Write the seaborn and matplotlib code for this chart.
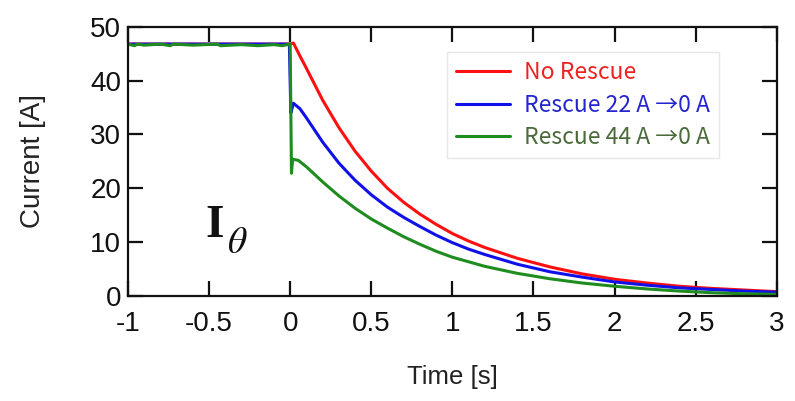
import matplotlib
matplotlib.use("Agg")
import matplotlib.pyplot as plt
import seaborn as sns
import pandas as pd
from matplotlib.lines import Line2D
from matplotlib.font_manager import FontProperties

# ---- data -------------------------------------------------------------
series_names = ["No Rescue", "Rescue 22 A \u21920 A", "Rescue 44 A \u21920 A"]

t_red = [-1.0, -0.5, 0.0, 0.02, 0.06, 0.1, 0.2, 0.3, 0.4, 0.5, 0.6, 0.7, 0.8, 0.9, 1.0,
         1.1, 1.2, 1.4, 1.6, 1.8, 2.0, 2.2, 2.4, 2.6, 2.8, 3.0]
i_red = [46.8, 46.8, 46.8, 47.0, 44.6, 42.3, 36.4, 31.3, 26.9, 23.2, 20.0, 17.4, 15.2, 13.3, 11.6,
         10.2, 9.0, 7.0, 5.4, 4.1, 3.1, 2.4, 1.8, 1.4, 1.1, 0.8]

t_blue = [-1.0, -0.5, -0.005, 0.004, 0.02, 0.06, 0.1, 0.2, 0.3, 0.4, 0.5, 0.6, 0.7, 0.8, 0.9,
          1.0, 1.1, 1.2, 1.4, 1.6, 1.8, 2.0, 2.2, 2.4, 2.6, 2.8, 3.0]
i_blue = [46.8, 46.8, 46.8, 34.0, 35.8, 34.8, 33.1, 28.6, 24.7, 21.5, 18.8, 16.5, 14.6, 12.9, 11.3,
          9.9, 8.7, 7.7, 5.9, 4.5, 3.5, 2.6, 2.0, 1.5, 1.2, 0.9, 0.7]

t_green = [-1.0, -0.96, -0.94, -0.9, -0.8, -0.74, -0.72, -0.6, -0.45, -0.43, -0.3, -0.2,
           -0.1, -0.05, 0.0, 0.008, 0.015, 0.05, 0.1, 0.2, 0.3, 0.4, 0.5, 0.6, 0.7, 0.8,
           0.9, 1.0, 1.2, 1.4, 1.6, 1.8, 2.0, 2.2, 2.4, 2.6, 2.8, 3.0]
i_green = [46.8, 46.5, 46.8, 46.6, 46.8, 46.5, 46.8, 46.6, 46.8, 46.5, 46.7, 46.5,
           46.7, 46.5, 46.8, 22.8, 25.4, 25.2, 24.0, 21.2, 18.6, 16.3, 14.3, 12.6, 11.0, 9.6,
           8.3, 7.2, 5.5, 4.2, 3.2, 2.4, 1.8, 1.3, 0.9, 0.6, 0.4, 0.3]

line_colors = ["#ff1010", "#1010e8", "#1e8c1e"]
text_colors = ["#f02020", "#2424d0", "#4a6a3a"]

x_ticks = [-1, -0.5, 0, 0.5, 1, 1.5, 2, 2.5, 3]
x_ticklabels = ["-1", "-0.5", "0", "0.5", "1", "1.5", "2", "2.5", "3"]
y_ticks = [0, 10, 20, 30, 40, 50]

df = pd.concat([
    pd.DataFrame({"t": t_red, "I": i_red, "case": series_names[0]}),
    pd.DataFrame({"t": t_blue, "I": i_blue, "case": series_names[1]}),
    pd.DataFrame({"t": t_green, "I": i_green, "case": series_names[2]}),
], ignore_index=True)

# ---- figure -------------------------------------------------------------
sns.set_theme(style="ticks")
plt.rcParams["font.family"] = ["Liberation Sans", "DejaVu Sans"]
plt.rcParams["axes.unicode_minus"] = False
plt.rcParams["mathtext.fontset"] = "stix"

fig = plt.figure(figsize=(7.95, 4.01), dpi=100)
ax = fig.add_axes([0.161, 0.262, 0.816, 0.671])

sns.lineplot(data=df, x="t", y="I", hue="case", palette=dict(zip(series_names, line_colors)),
             sort=False, estimator=None, linewidth=2.2, legend=False, ax=ax)

ax.set_xlim(-1, 3)
ax.set_ylim(0, 50)
ax.set_xticks(x_ticks)
ax.set_xticklabels(x_ticklabels)
ax.set_yticks(y_ticks)

for s in ax.spines.values():
    s.set_linewidth(1.6)
    s.set_color("#111111")
ax.tick_params(direction="in", top=True, right=True, length=11, width=1.6,
               labelsize=20, colors="#111111")
ax.tick_params(axis="x", pad=11)
ax.tick_params(axis="y", pad=5)

ax.set_xlabel("Time [s]", fontsize=18.5, labelpad=20, color="#222222")
ax.set_ylabel("Current [A]", fontsize=20, labelpad=32, color="#222222")

legend_font = FontProperties(family=["Noto Sans CJK JP", "DejaVu Sans"], size=16.5)
handles = [Line2D([0], [0], color=c, lw=2.2) for c in line_colors]
leg = ax.legend(handles, series_names, loc="upper left", bbox_to_anchor=(0.491, 0.907),
                prop=legend_font, frameon=True, fancybox=False, edgecolor="#e2e2e2",
                handlelength=2.35, handletextpad=0.65, labelspacing=0.42,
                borderpad=0.4, borderaxespad=0.0, labelcolor=text_colors)
leg.get_frame().set_linewidth(1.0)

ax.text(-0.52, 11.0, "I", fontsize=34, fontweight="bold", family="Liberation Serif",
        va="baseline", ha="left", color="#111111")
ax.text(-0.39, 8.0, r"$\theta$", fontsize=27, va="baseline", ha="left", color="#111111")

fig.savefig("out.png", dpi=100)
